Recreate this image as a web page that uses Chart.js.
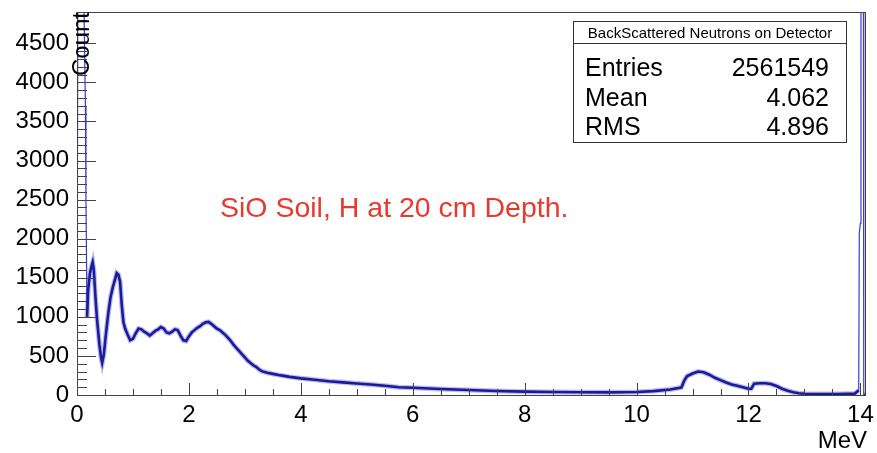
<!DOCTYPE html>
<html>
<head>
<meta charset="utf-8">
<script src="https://cdn.jsdelivr.net/npm/chart.js@4"></script>
<style>
  body { margin: 0; background: #fff; }
  #wrap { width: 877px; height: 453px; }
</style>
</head>
<body>
<div id="wrap"><canvas id="spectrum" width="877" height="453"></canvas></div>
<script>
const energies = [
  0.00, 0.02, 0.05, 0.08, 0.12, 0.15, 0.16, 0.18, 0.20, 0.23, 0.26, 0.28, 0.30, 0.33, 0.36,
  0.40, 0.43, 0.45, 0.48, 0.52, 0.56, 0.60, 0.64, 0.68, 0.71, 0.74, 0.77, 0.80, 0.83, 0.86,
  0.90, 0.95, 1.00, 1.05, 1.10, 1.15, 1.20, 1.25, 1.30, 1.35, 1.40, 1.45, 1.50, 1.55, 1.60,
  1.65, 1.70, 1.75, 1.80, 1.85, 1.90, 1.95, 2.00, 2.05, 2.10, 2.15, 2.20, 2.25, 2.30, 2.35,
  2.40, 2.45, 2.50, 2.55, 2.60, 2.65, 2.70, 2.75, 2.80, 2.85, 2.90, 2.95, 3.00, 3.05, 3.10,
  3.15, 3.20, 3.25, 3.30, 3.40, 3.50, 3.60, 3.70, 3.80, 3.90, 4.00, 4.25, 4.50, 4.75, 5.00,
  5.25, 5.50, 5.75, 6.00, 6.50, 7.00, 7.50, 8.00, 8.50, 9.00, 9.50, 10.00, 10.30, 10.60, 10.80,
  10.85, 10.90, 11.00, 11.10, 11.20, 11.30, 11.40, 11.50, 11.60, 11.70, 11.80, 11.90, 12.00, 12.05, 12.10,
  12.20, 12.30, 12.40, 12.50, 12.60, 12.70, 12.80, 12.90, 13.00, 13.30, 13.60, 13.90, 13.97, 13.98, 14.00,
  14.01, 14.05, 14.06, 14.10
];
const counts = [
  0, 7000, 9000, 6000, 5200, 3700, 2500, 1000, 1350, 1550, 1650, 1700, 1600, 1250, 950,
  650, 480, 410, 520, 800, 1050, 1250, 1380, 1480, 1560, 1540, 1450, 1150, 930, 850,
  780, 700, 720, 790, 850, 840, 810, 790, 760, 790, 820, 840, 870, 850, 800,
  790, 810, 840, 830, 760, 700, 690, 750, 800, 830, 860, 880, 910, 930, 935,
  910, 880, 850, 830, 800, 770, 730, 690, 640, 600, 560, 520, 480, 440, 410,
  380, 360, 330, 305, 285, 270, 255, 245, 232, 222, 213, 195, 175, 162, 148,
  135, 118, 100, 92, 76, 64, 52, 43, 38, 35, 34, 38, 50, 70, 95,
  180, 240, 275, 300, 290, 260, 220, 190, 160, 135, 118, 100, 80, 80, 145,
  150, 150, 140, 115, 80, 55, 35, 22, 16, 12, 12, 18, 60, 2070, 2200,
  9000, 9000, 0, 0
];
const xTicks = [0, 2, 4, 6, 8, 10, 12, 14];
const yTicks = [0, 500, 1000, 1500, 2000, 2500, 3000, 3500, 4000, 4500];
const statLabels = ['Entries', 'Mean', 'RMS'];
const statValues = ['2561549', '4.062', '4.896'];

const FONT = "'Liberation Sans', Arial, Helvetica, sans-serif";

// Moldura, marcas internas e textos no estilo ROOT
const rootStyle = {
  id: 'rootStyle',
  afterDatasetsDraw(chart) {
    const { ctx, chartArea: a, scales: { x, y } } = chart;
    ctx.save();
    ctx.strokeStyle = '#444';
    ctx.lineWidth = 1;
    ctx.strokeRect(a.left + 0.5, a.top + 0.5, a.right - a.left - 1, a.bottom - a.top);

    ctx.beginPath();
    for (let i = 0; i <= 28; i++) {
      const px = Math.round(x.getPixelForValue(i * 0.5)) + 0.5;
      const len = i % 4 === 0 ? 12 : 6;
      ctx.moveTo(px, a.bottom);
      ctx.lineTo(px, a.bottom - len);
    }
    for (let i = 0; i <= 48; i++) {
      const py = Math.round(y.getPixelForValue(i * 100)) + 0.5;
      const len = i % 5 === 0 ? 19 : 10;
      ctx.moveTo(a.left, py);
      ctx.lineTo(a.left + len, py);
    }
    ctx.stroke();

    // títulos dos eixos
    ctx.fillStyle = '#000';
    ctx.font = '24px ' + FONT;
    ctx.textAlign = 'right';
    ctx.textBaseline = 'alphabetic';
    ctx.fillText('MeV', 867, 448);
    ctx.save();
    ctx.translate(89, 12);
    ctx.rotate(-Math.PI / 2);
    ctx.fillText('Count', 0, 0);
    ctx.restore();

    // anotação
    ctx.fillStyle = '#e8392f';
    ctx.font = '28.5px ' + FONT;
    ctx.textAlign = 'left';
    ctx.fillText('SiO Soil, H at 20 cm Depth.', 220, 217);

    // caixa de estatísticas
    ctx.fillStyle = '#fff';
    ctx.fillRect(573.5, 21.5, 273, 121);
    ctx.strokeStyle = '#333';
    ctx.strokeRect(573.5, 21.5, 273, 121);
    ctx.beginPath();
    ctx.moveTo(573.5, 43.5);
    ctx.lineTo(846.5, 43.5);
    ctx.stroke();
    ctx.fillStyle = '#000';
    ctx.font = '15px ' + FONT;
    ctx.textAlign = 'center';
    ctx.fillText('BackScattered Neutrons on Detector', 710, 38);
    ctx.font = '25px ' + FONT;
    statLabels.forEach((lab, i) => {
      const by = 76 + i * 29.5;
      ctx.textAlign = 'left';
      ctx.fillText(lab, 585, by);
      ctx.textAlign = 'right';
      ctx.fillText(statValues[i], 829, by);
    });
    ctx.restore();
  }
};

const points = energies.map((e, i) => ({ x: e, y: counts[i] }));
const isSpike = c => c.p0.parsed.y > 1800 || c.p1.parsed.y > 1800;

new Chart(document.getElementById('spectrum'), {
  type: 'line',
  data: {
    datasets: [{
      // traço principal
      data: points,
      borderColor: '#1a1a9c',
      borderWidth: 2.6,
      pointRadius: 0,
      tension: 0,
      order: 1,
      segment: {
        borderWidth: c => isSpike(c) ? 1.2 : 2.6,
        borderColor: c => isSpike(c) ? '#3a3ad6' : '#1a1a9c'
      }
    }, {
      // halo do ruído estatístico
      data: points,
      borderColor: 'rgba(60,60,200,0.35)',
      borderWidth: 5,
      pointRadius: 0,
      tension: 0,
      order: 2,
      segment: {
        borderColor: c => isSpike(c) ? 'rgba(0,0,0,0)' : 'rgba(60,60,200,0.35)'
      }
    }]
  },
  options: {
    responsive: false,
    animation: false,
    events: [],
    layout: { padding: { left: 0, top: 12, right: 11, bottom: 0 } },
    plugins: { legend: { display: false }, tooltip: { enabled: false } },
    scales: {
      x: {
        type: 'linear',
        min: 0,
        max: 14.1,
        afterFit: s => { s.height = 58; s.paddingLeft = 0; s.paddingRight = 0; },
        afterBuildTicks: s => { s.ticks = xTicks.map(v => ({ value: v })); },
        grid: { display: false, drawTicks: false },
        border: { display: false },
        ticks: { color: '#000', padding: 6, maxRotation: 0, callback: v => String(v), font: { family: FONT, size: 24 } }
      },
      y: {
        min: 0,
        max: 4900,
        afterFit: s => { s.width = 77; s.paddingTop = 0; s.paddingBottom = 0; },
        afterBuildTicks: s => { s.ticks = yTicks.map(v => ({ value: v })); },
        grid: { display: false, drawTicks: false },
        border: { display: false },
        ticks: { color: '#000', padding: 8, callback: v => String(v), font: { family: FONT, size: 24 } }
      }
    }
  },
  plugins: [rootStyle]
});
</script>
</body>
</html>
